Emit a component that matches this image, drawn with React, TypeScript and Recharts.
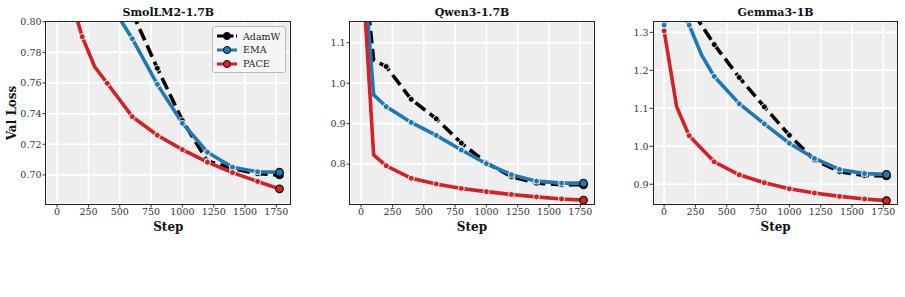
import React from "react"
import { LineChart, Line, XAxis, YAxis, CartesianGrid } from "recharts"

// SmolLM2-1.7B
const SMOL_STEPS = [0, 100, 200, 300, 400, 600, 800, 1000, 1200, 1400, 1600, 1775]
const SMOL_ADAMW = [null, null, null, null, null, 0.806, 0.7696, 0.7355, 0.7091, 0.7043, 0.7007, 0.7]
const SMOL_EMA = [null, null, null, null, 0.815, 0.7889, 0.7591, 0.7337, 0.7148, 0.705, 0.702, 0.7017]
const SMOL_PACE = [null, 0.818, 0.7902, 0.7706, 0.7598, 0.738, 0.7259, 0.7165, 0.7083, 0.7015, 0.6957, 0.6909]

// Qwen3-1.7B
const QWEN_STEPS = [0, 100, 200, 400, 600, 800, 1000, 1200, 1400, 1600, 1775]
const QWEN_ADAMW = [1.35, 1.057, 1.041, 0.96, 0.912, 0.852, 0.803, 0.769, 0.753, 0.749, 0.749]
const QWEN_EMA = [1.37, 0.971, 0.942, 0.903, 0.871, 0.835, 0.801, 0.774, 0.758, 0.753, 0.753]
const QWEN_PACE = [1.33, 0.823, 0.796, 0.765, 0.751, 0.74, 0.732, 0.725, 0.719, 0.714, 0.711]

// Gemma3-1B
const GEMMA_STEPS = [0, 100, 200, 300, 400, 600, 800, 1000, 1200, 1400, 1600, 1775]
const GEMMA_ADAMW = [1.322, 1.42, 1.368, null, 1.268, 1.181, 1.104, 1.029, 0.964, 0.933, 0.923, 0.922]
const GEMMA_EMA = [1.319, 1.38, 1.319, 1.24, 1.184, 1.112, 1.059, 1.008, 0.968, 0.939, 0.928, 0.926]
const GEMMA_PACE = [1.304, 1.104, 1.028, null, 0.959, 0.925, 0.904, 0.888, 0.877, 0.868, 0.861, 0.857]

const X_TICKS = [0, 250, 500, 750, 1000, 1250, 1500, 1750]
const LAST_STEP = 1775

const COLORS = {
  adamw: "#000000",
  ema: "#1f77b4",
  pace: "#d42027",
}

const FONT = "'DejaVu Serif', serif"
const PLOT_W = 244.6
const PLOT_H = 182.3
const PLOT_TOP = 21.7
const Y_AXIS_W = 46
const LINE_W = 3.6

function makeDot(color: string, yMax: number) {
  return (props: any) => {
    const { cx, cy, payload, value, index } = props
    const key = `dot-${index}`
    if (value == null || cx == null || cy == null || isNaN(cy)) return <g key={key} />
    if (value > yMax) return <g key={key} />
    if (payload.step === LAST_STEP) {
      return <circle key={key} cx={cx} cy={cy} r={3.8} fill={color} stroke="#111" strokeWidth={1.3} />
    }
    if (payload.step % 200 !== 0) return <g key={key} />
    return <circle key={key} cx={cx} cy={cy} r={3} fill={color} stroke="#fff" strokeWidth={0.9} />
  }
}

interface PanelProps {
  title: string
  left: number
  steps: number[]
  adamw: (number | null)[]
  ema: (number | null)[]
  pace: (number | null)[]
  yDomain: [number, number]
  yTicks: number[]
  digits: number
}

function Panel({ title, left, steps, adamw, ema, pace, yDomain, yTicks, digits }: PanelProps) {
  const rows = steps.map((s, i) => ({ step: s, adamw: adamw[i], ema: ema[i], pace: pace[i] }))
  const w = Y_AXIS_W + PLOT_W + 4
  const tickStyle = { fontSize: 9.5, fill: "#333", fontFamily: FONT }

  return (
    <div style={{ position: "absolute", left: left - Y_AXIS_W, top: 0, width: w, height: 240 }}>
      <LineChart
        width={w}
        height={PLOT_TOP + PLOT_H + 30}
        data={rows}
        margin={{ top: PLOT_TOP, right: 4, bottom: 0, left: 0 }}
      >
        <CartesianGrid fill="#eeeeee" stroke="#ffffff" strokeWidth={1.6} />
        <XAxis
          dataKey="step"
          type="number"
          domain={[-88.75, 1863.75]}
          ticks={X_TICKS}
          interval={0}
          allowDataOverflow
          axisLine={false}
          tickSize={3.5}
          tickMargin={1}
          tickLine={{ stroke: "#333" }}
          tick={tickStyle}
          height={30}
        />
        <YAxis
          type="number"
          domain={yDomain}
          ticks={yTicks}
          interval={0}
          allowDataOverflow
          axisLine={false}
          tickSize={3.5}
          tickMargin={1}
          tickLine={{ stroke: "#333" }}
          tick={tickStyle}
          tickFormatter={(v: number) => v.toFixed(digits)}
          width={Y_AXIS_W}
        />
        <Line
          type="linear"
          dataKey="adamw"
          stroke={COLORS.adamw}
          strokeWidth={LINE_W}
          strokeDasharray="12.5 5.5"
          connectNulls
          dot={makeDot(COLORS.adamw, yDomain[1])}
          activeDot={false}
          isAnimationActive={false}
        />
        <Line
          type="linear"
          dataKey="ema"
          stroke={COLORS.ema}
          strokeWidth={LINE_W}
          connectNulls
          dot={makeDot(COLORS.ema, yDomain[1])}
          activeDot={false}
          isAnimationActive={false}
        />
        <Line
          type="linear"
          dataKey="pace"
          stroke={COLORS.pace}
          strokeWidth={LINE_W}
          connectNulls
          dot={makeDot(COLORS.pace, yDomain[1])}
          activeDot={false}
          isAnimationActive={false}
        />
      </LineChart>
      {/* frame */}
      <div
        style={{
          position: "absolute",
          left: Y_AXIS_W - 0.6,
          top: PLOT_TOP - 0.6,
          width: PLOT_W + 1.2,
          height: PLOT_H + 1.2,
          border: "1.2px solid #222",
          boxSizing: "border-box",
          pointerEvents: "none",
        }}
      />
      <div
        style={{
          position: "absolute",
          left: Y_AXIS_W + PLOT_W / 2,
          top: 11.7,
          transform: "translate(-50%, -50%)",
          fontFamily: FONT,
          fontWeight: "bold",
          fontSize: 11,
          whiteSpace: "nowrap",
          color: "#111",
        }}
      >
        {title}
      </div>
      <div
        style={{
          position: "absolute",
          left: Y_AXIS_W + PLOT_W / 2,
          top: 226.5,
          transform: "translate(-50%, -50%)",
          fontFamily: FONT,
          fontWeight: "bold",
          fontSize: 12,
          whiteSpace: "nowrap",
          color: "#111",
        }}
      >
        Step
      </div>
    </div>
  )
}

const LEGEND_ITEMS = [
  { label: "AdamW", color: COLORS.adamw, dash: "7 2.5" },
  { label: "EMA", color: COLORS.ema, dash: undefined },
  { label: "PACE", color: COLORS.pace, dash: undefined },
]

function LegendBox() {
  return (
    <div
      style={{
        position: "absolute",
        left: 212,
        top: 26,
        width: 74,
        height: 47,
        background: "rgba(245,245,245,0.9)",
        border: "1px solid #bbb",
        borderRadius: 3,
        boxSizing: "border-box",
      }}
    >
      {LEGEND_ITEMS.map((it, i) => (
        <div
          key={it.label}
          style={{ position: "absolute", left: 3, top: 3 + i * 13.8, height: 12, display: "flex", alignItems: "center" }}
        >
          <svg width={22} height={12}>
            <line x1={1} y1={6} x2={21} y2={6} stroke={it.color} strokeWidth={3} strokeDasharray={it.dash} />
            <circle cx={11} cy={6} r={3.6} fill={it.color} stroke="#111" strokeWidth={1} />
          </svg>
          <span style={{ fontFamily: FONT, fontSize: 9.5, color: "#222", marginLeft: 5, whiteSpace: "nowrap" }}>
            {it.label}
          </span>
        </div>
      ))}
    </div>
  )
}

export default function App() {
  return (
    <div style={{ position: "absolute", left: 0, top: 0, width: 905, height: 297, background: "#fff", overflow: "hidden" }}>
      <Panel
        title="SmolLM2-1.7B"
        left={46}
        steps={SMOL_STEPS}
        adamw={SMOL_ADAMW}
        ema={SMOL_EMA}
        pace={SMOL_PACE}
        yDomain={[0.681, 0.8]}
        yTicks={[0.7, 0.72, 0.74, 0.76, 0.78, 0.8]}
        digits={2}
      />
      <Panel
        title="Qwen3-1.7B"
        left={349.7}
        steps={QWEN_STEPS}
        adamw={QWEN_ADAMW}
        ema={QWEN_EMA}
        pace={QWEN_PACE}
        yDomain={[0.7015, 1.1518]}
        yTicks={[0.8, 0.9, 1.0, 1.1]}
        digits={1}
      />
      <Panel
        title="Gemma3-1B"
        left={653.3}
        steps={GEMMA_STEPS}
        adamw={GEMMA_ADAMW}
        ema={GEMMA_EMA}
        pace={GEMMA_PACE}
        yDomain={[0.848, 1.328]}
        yTicks={[0.9, 1.0, 1.1, 1.2, 1.3]}
        digits={1}
      />
      <LegendBox />
      <div
        style={{
          position: "absolute",
          left: 11.7,
          top: 113,
          transform: "translate(-50%, -50%) rotate(-90deg)",
          fontFamily: FONT,
          fontWeight: "bold",
          fontSize: 12,
          whiteSpace: "nowrap",
          color: "#111",
        }}
      >
        Val Loss
      </div>
    </div>
  )
}
